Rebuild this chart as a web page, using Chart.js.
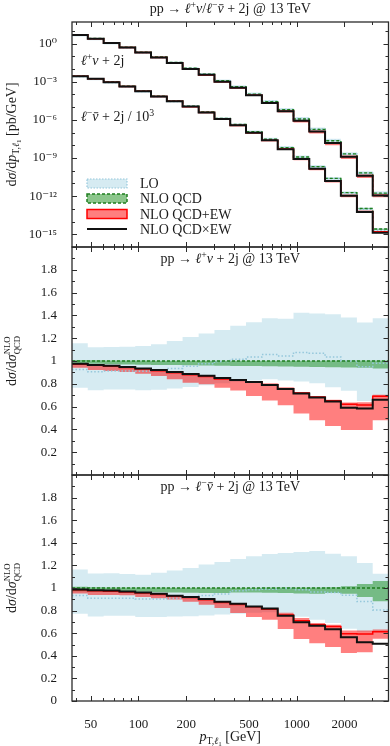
<!DOCTYPE html>
<html>
<head>
<meta charset="utf-8">
<script src="https://cdn.jsdelivr.net/npm/chart.js@4.4.1/dist/chart.umd.min.js"></script>
<style>
  html, body { margin: 0; padding: 0; background: #fff; }
  #wrap { position: relative; width: 390px; height: 746px; overflow: hidden; }
  canvas { position: absolute; left: 0; }
  #err { position: absolute; left: 80px; top: 300px; color: #00f; font: 11px monospace; z-index: 9; }
</style>
</head>
<body>
<div id="wrap">
  <canvas id="topChart" width="390" height="250" style="top:0px"></canvas>
  <canvas id="midChart" width="390" height="234" style="top:244px"></canvas>
  <canvas id="botChart" width="390" height="274" style="top:472px"></canvas>
  <div id="err"></div>
</div>
<script>
/* ----------------------------- */
/* DATA                          */
/* ----------------------------- */
// p_T,l1 bin edges [GeV]
const binEdges = [38, 47.8, 60.2, 75.8, 95.4, 120, 151, 190, 240, 302, 380,
  478, 602, 758, 954, 1200, 1510, 1900, 2400, 3020, 3800];
const xMajorTicks = [50, 100, 200, 500, 1000, 2000];
const xMinorTicks = [40, 60, 70, 80, 90, 300, 400, 600, 700, 800, 900, 3000];
const topDecades = [1e-16, 1e-15, 1e-14, 1e-13, 1e-12, 1e-11, 1e-10, 1e-9, 1e-8,
  1e-7, 1e-6, 1e-5, 1e-4, 1e-3, 1e-2, 1e-1, 1, 10];
const ratioTicks = [0, 0.1, 0.2, 0.3, 0.4, 0.5, 0.6, 0.7, 0.8, 0.9, 1, 1.1, 1.2,
  1.3, 1.4, 1.5, 1.6, 1.7, 1.8, 1.9, 2];

// top panel, NLO QCD central values [pb/GeV]
const wPlusNloQcd = [4.8, 2.5, 1.15, 0.52, 0.21, 0.089, 0.033, 0.0115, 4.0e-3, 1.2e-3,
  4.0e-4, 1.07e-4, 2.7e-5, 6.2e-6, 1.17e-6, 1.78e-7, 2.3e-8, 2.1e-9, 6.8e-11, 1.74e-12];
// l- nubar + 2j, already divided by 10^3
const wMinusNloQcd = [2.75e-3, 1.74e-3, 9.5e-4, 4.4e-4, 1.86e-4, 7.2e-5, 3.1e-5, 1.2e-5, 4.2e-6, 1.32e-6,
  4.3e-7, 1.15e-7, 3.0e-8, 6.6e-9, 1.2e-9, 2.1e-10, 2.5e-11, 1.9e-12, 1.07e-13, 2.6e-15];

// NLO QCD normalised to itself
const nloQcdRatio = [1, 1, 1, 1, 1, 1, 1, 1, 1, 1, 1, 1, 1, 1, 1, 1, 1, 1, 1, 1];

// ratios to NLO QCD, pp -> l+ nu + 2j
const wPlusLo = [0.925, 0.905, 0.912, 0.912, 0.91, 0.923, 0.935, 0.955, 0.975, 0.995,
  1.015, 1.035, 1.057, 1.044, 1.075, 1.068, 1.035, 1.0, 0.95, 0.98];
const wPlusLoUp = [1.155, 1.12, 1.123, 1.125, 1.132, 1.147, 1.176, 1.21, 1.241, 1.271,
  1.309, 1.34, 1.376, 1.37, 1.423, 1.417, 1.41, 1.382, 1.338, 1.376];
const wPlusLoDn = [0.765, 0.744, 0.75, 0.75, 0.744, 0.747, 0.759, 0.771, 0.788, 0.805,
  0.815, 0.83, 0.84, 0.83, 0.82, 0.805, 0.77, 0.74, 0.65, 0.69];
const wPlusNloUp = [1.008, 1.006, 1.005, 1.004, 1.004, 1.003, 1.003, 1.003, 1.003, 1.003,
  1.003, 1.003, 1.003, 1.003, 1.003, 1.003, 1.004, 1.004, 1.005, 1.005];
const wPlusNloDn = [0.975, 0.975, 0.972, 0.97, 0.968, 0.966, 0.964, 0.962, 0.96, 0.958,
  0.957, 0.956, 0.954, 0.952, 0.95, 0.948, 0.946, 0.944, 0.94, 0.935];
const wPlusEw = [0.972, 0.962, 0.955, 0.943, 0.93, 0.915, 0.897, 0.88, 0.864, 0.843,
  0.835, 0.818, 0.793, 0.758, 0.72, 0.684, 0.652, 0.62, 0.615, 0.69];
const wPlusEwUp = [0.975, 0.965, 0.958, 0.945, 0.933, 0.918, 0.9, 0.883, 0.866, 0.845,
  0.84, 0.825, 0.8, 0.765, 0.728, 0.69, 0.66, 0.635, 0.638, 0.705];
const wPlusEwDn = [0.94, 0.92, 0.912, 0.903, 0.888, 0.868, 0.84, 0.81, 0.795, 0.765,
  0.742, 0.692, 0.653, 0.612, 0.54, 0.48, 0.43, 0.395, 0.395, 0.48];
const wPlusQcdXEw = [0.975, 0.966, 0.958, 0.947, 0.935, 0.921, 0.903, 0.885, 0.87, 0.85,
  0.833, 0.816, 0.79, 0.755, 0.715, 0.68, 0.645, 0.59, 0.583, 0.66];

// ratios to NLO QCD, pp -> l- nubar + 2j
const wMinusLo = [0.933, 0.91, 0.91, 0.91, 0.902, 0.902, 0.91, 0.92, 0.933, 0.947,
  0.975, 0.985, 0.99, 0.995, 0.985, 0.965, 0.96, 0.935, 0.88, 0.805];
const wMinusLoUp = [1.163, 1.128, 1.13, 1.125, 1.118, 1.136, 1.154, 1.177, 1.207, 1.23,
  1.257, 1.28, 1.3, 1.309, 1.318, 1.327, 1.303, 1.28, 1.221, 1.127];
const wMinusLoDn = [0.772, 0.748, 0.754, 0.754, 0.743, 0.743, 0.748, 0.75, 0.757, 0.766,
  0.772, 0.78, 0.785, 0.775, 0.745, 0.72, 0.69, 0.64, 0.61, 0.62];
const wMinusNloUp = [1.01, 1.006, 1.005, 1.004, 1.004, 1.004, 1.003, 1.003, 1.003, 1.003,
  1.003, 1.003, 1.004, 1.004, 1.005, 1.005, 1.006, 1.016, 1.036, 1.062];
const wMinusNloDn = [0.972, 0.972, 0.97, 0.968, 0.966, 0.963, 0.961, 0.958, 0.956, 0.955,
  0.96, 0.96, 0.958, 0.956, 0.952, 0.95, 0.955, 0.95, 0.92, 0.883];
const wMinusEw = [0.985, 0.975, 0.972, 0.965, 0.955, 0.943, 0.928, 0.915, 0.895, 0.872,
  0.853, 0.833, 0.812, 0.76, 0.71, 0.675, 0.66, 0.595, 0.592, 0.612];
const wMinusEwUp = [0.99, 0.98, 0.978, 0.97, 0.961, 0.949, 0.932, 0.92, 0.902, 0.879,
  0.861, 0.84, 0.82, 0.78, 0.735, 0.69, 0.675, 0.625, 0.625, 0.632];
const wMinusEwDn = [0.951, 0.937, 0.937, 0.935, 0.92, 0.91, 0.898, 0.879, 0.852, 0.823,
  0.778, 0.743, 0.719, 0.637, 0.548, 0.512, 0.477, 0.424, 0.432, 0.55];
const wMinusQcdXEw = [0.987, 0.98, 0.978, 0.97, 0.961, 0.949, 0.932, 0.92, 0.902, 0.879,
  0.861, 0.837, 0.818, 0.755, 0.696, 0.667, 0.635, 0.564, 0.521, 0.507];

/* ----------------------------- */
/* STYLE                         */
/* ----------------------------- */
const FONT = '"Liberation Serif", "DejaVu Serif", serif';
const TEXT_COLOR = '#1a1a1a';
const LO_FILL = 'rgba(173, 216, 230, 0.5)';
const LO_LINE = 'rgb(150, 200, 220)';
const NLO_FILL = 'rgba(0, 128, 0, 0.45)';
const NLO_LINE = '#1f7f1f';
const EW_FILL = 'rgba(255, 0, 0, 0.5)';
const EW_LINE = '#ff0000';
const MIX_LINE = '#111111';

/* ----------------------------- */
/* HELPERS                       */
/* ----------------------------- */
// histogram as stepped line: one point per bin edge, last bin repeated
const steps = (vals, factor) =>
  binEdges.map((x, i) => {
    const k = Math.min(i, vals.length - 1);
    return { x, y: vals[k] * (factor ? factor[k] : 1) };
  });

const bandPair = (up, dn, fill, order) => [
  { data: up, fill: '+1', backgroundColor: fill, borderColor: 'transparent', borderWidth: 0, order },
  { data: dn, fill: false, borderColor: 'transparent', borderWidth: 0, order },
];
const stepLine = (data, color, width, dash, order) => ({
  data, fill: false, borderColor: color, borderWidth: width, borderDash: dash, order,
});

const curveDatasets = (r, factor) => [
  ...bandPair(steps(r.loUp, factor), steps(r.loDn, factor), LO_FILL, 6),
  ...bandPair(steps(r.nloUp, factor), steps(r.nloDn, factor), NLO_FILL, 5),
  ...bandPair(steps(r.ewUp, factor), steps(r.ewDn, factor), EW_FILL, 4),
  stepLine(steps(r.lo, factor), LO_LINE, 1.5, [1.5, 2], 3),
  stepLine(steps(nloQcdRatio, factor), NLO_LINE, 1.4, [3, 2], 2),
  stepLine(steps(r.ew, factor), EW_LINE, 1.5, [], 1),
  stepLine(steps(r.mix, factor), MIX_LINE, 2, [], 0),
];

const wPlusRatios = {
  lo: wPlusLo, loUp: wPlusLoUp, loDn: wPlusLoDn, nloUp: wPlusNloUp, nloDn: wPlusNloDn,
  ew: wPlusEw, ewUp: wPlusEwUp, ewDn: wPlusEwDn, mix: wPlusQcdXEw,
};
const wMinusRatios = {
  lo: wMinusLo, loUp: wMinusLoUp, loDn: wMinusLoDn, nloUp: wMinusNloUp, nloDn: wMinusNloDn,
  ew: wMinusEw, ewUp: wMinusEwUp, ewDn: wMinusEwDn, mix: wMinusQcdXEw,
};

// text with italics, super- and subscripts; y is the baseline
// style flags: i italic, ^ sup, _ sub, # sub of sub, S stacked sup|sub, b bar over
const drawRich = (ctx, parts, x, y, size, align = 'left') => {
  const items = parts.map(([text, style = '']) => {
    let fs = size, dy = 0;
    if (style.includes('^')) { fs = size * 0.7; dy = -size * 0.36; }
    if (style.includes('_')) { fs = size * 0.7; dy = size * 0.2; }
    if (style.includes('#')) { fs = size * 0.5; dy = size * 0.36; }
    if (style.includes('S')) { fs = size * 0.62; }
    const font = `${style.includes('i') ? 'italic ' : ''}${fs}px ${FONT}`;
    ctx.font = font;
    const lines = text.split('|');
    const w = Math.max(...lines.map((l) => ctx.measureText(l).width));
    return { lines, font, dy, w, fs, stacked: style.includes('S'), bar: style.includes('b') };
  });
  const total = items.reduce((s, it) => s + it.w, 0);
  let cx = align === 'center' ? x - total / 2 : x;
  ctx.textAlign = 'left';
  ctx.textBaseline = 'alphabetic';
  for (const it of items) {
    ctx.font = it.font;
    if (it.stacked) {
      ctx.fillText(it.lines[0], cx, y - size * 0.4);
      ctx.fillText(it.lines[1], cx, y + size * 0.28);
    } else {
      ctx.fillText(it.lines[0], cx, y + it.dy);
    }
    if (it.bar) {
      ctx.fillRect(cx + it.w * 0.25, y + it.dy - it.fs * 0.62, it.w * 0.7, Math.max(0.8, it.fs * 0.06));
    }
    cx += it.w;
  }
};

const SUP = { '-': '⁻', 0: '⁰', 1: '¹', 2: '²', 3: '³', 4: '⁴', 5: '⁵', 6: '⁶', 7: '⁷', 8: '⁸', 9: '⁹' };
const supNum = (n) => String(n).split('').map((c) => SUP[c]).join('');

const showError = (e) => {
  document.getElementById('err').textContent += String(e && e.stack ? e.stack : e) + ' | ';
};

/* ----------------------------- */
/* PLUGIN: frame, ticks, texts   */
/* ----------------------------- */
const drawFrame = (chart) => {
  const { ctx, chartArea: a } = chart;
  const xs = chart.scales.x;
  const ys = chart.scales.y;
  const isLog = ys.type === 'logarithmic';
  ctx.save();
  ctx.setLineDash([]);
  ctx.strokeStyle = '#2b2b2b';
  ctx.lineWidth = 1;
  ctx.beginPath();
  xMajorTicks.concat(xMinorTicks).forEach((v) => {
    const px = Math.round(xs.getPixelForValue(v)) + 0.5;
    const len = xMajorTicks.includes(v) ? 5 : 3;
    ctx.moveTo(px, a.bottom); ctx.lineTo(px, a.bottom - len);
    ctx.moveTo(px, a.top); ctx.lineTo(px, a.top + len);
  });
  (isLog ? topDecades : ratioTicks).forEach((v) => {
    const py = Math.round(ys.getPixelForValue(v)) + 0.5;
    const major = isLog ? Math.round(Math.log10(v)) % 3 === 0 : Math.round(v * 10) % 2 === 0;
    const len = major ? 5 : 3;
    ctx.moveTo(a.left, py); ctx.lineTo(a.left + len, py);
    ctx.moveTo(a.right, py); ctx.lineTo(a.right - len, py);
  });
  ctx.stroke();
  ctx.lineWidth = 1.3;
  ctx.strokeRect(a.left, a.top, a.right - a.left, a.bottom - a.top);
  ctx.restore();
};

const L = ['ℓ', 'i'];
const NU = ['ν', 'i'];
const NUBAR = ['ν', 'ib'];

const drawTexts = (chart) => {
  const { ctx, chartArea: a } = chart;
  const panel = chart.canvas.id;
  const cx = (a.left + a.right) / 2;
  const cy = (a.top + a.bottom) / 2;
  ctx.save();
  ctx.fillStyle = TEXT_COLOR;
  const yTitle = (parts) => {
    ctx.save();
    ctx.translate(16, cy);
    ctx.rotate(-Math.PI / 2);
    drawRich(ctx, parts, 0, 0, 14, 'center');
    ctx.restore();
  };
  if (panel === 'topChart') {
    drawRich(ctx, [['pp → '], L, ['+', '^'], NU, ['/'], L, ['−', '^'], NUBAR, [' + 2j @ 13 TeV']], cx, 13, 14, 'center');
    drawRich(ctx, [L, ['+', '^'], NU, [' + 2j']], 81, 65, 14);
    drawRich(ctx, [L, ['−', '^'], NUBAR, [' + 2j / 10'], ['3', '^']], 81, 121, 14);
    yTitle([['d'], ['σ', 'i'], ['/d'], ['p', 'i'], ['T,', '_'], ['ℓ', '_i'], ['1', '#'], [' [pb/GeV]']]);
    // legend
    const bx = 87, bw = 40, bh = 9;
    const rows = [
      { y: 183.5, text: 'LO', fill: LO_FILL, line: LO_LINE, dash: [1.5, 1.5], lw: 1.2 },
      { y: 198.5, text: 'NLO QCD', fill: NLO_FILL, line: NLO_LINE, dash: [3, 2], lw: 1.5 },
      { y: 214, text: 'NLO QCD+EW', fill: EW_FILL, line: EW_LINE, dash: [], lw: 1.5 },
      { y: 229, text: 'NLO QCD×EW' },
    ];
    rows.forEach((r) => {
      if (r.fill) {
        ctx.fillStyle = r.fill;
        ctx.fillRect(bx, r.y - bh / 2, bw, bh);
        ctx.strokeStyle = r.line;
        ctx.lineWidth = r.lw;
        ctx.setLineDash(r.dash);
        ctx.strokeRect(bx, r.y - bh / 2, bw, bh);
        ctx.setLineDash([]);
      } else {
        ctx.strokeStyle = MIX_LINE;
        ctx.lineWidth = 2;
        ctx.beginPath();
        ctx.moveTo(bx, r.y); ctx.lineTo(bx + bw, r.y);
        ctx.stroke();
      }
      ctx.fillStyle = TEXT_COLOR;
      drawRich(ctx, [[r.text]], 140, r.y + 4.5, 14);
    });
  } else {
    const proc = panel === 'midChart' ? [L, ['+', '^'], NU] : [L, ['−', '^'], NUBAR];
    drawRich(ctx, [['pp → '], ...proc, [' + 2j @ 13 TeV']], cx, a.top + 16, 14, 'center');
    yTitle([['d'], ['σ', 'i'], ['/d'], ['σ', 'i'], ['NLO|QCD', 'S']]);
    if (panel === 'botChart') {
      drawRich(ctx, [['p', 'i'], ['T,', '_'], ['ℓ', '_i'], ['1', '#'], [' [GeV]']], cx, a.bottom + 40, 14, 'center');
    }
  }
  ctx.restore();
};

const decorPlugin = {
  id: 'decor',
  afterDraw(chart) {
    try { drawFrame(chart); } catch (e) { showError(e); }
    try { drawTexts(chart); } catch (e) { showError(e); }
  },
};

/* ----------------------------- */
/* CHARTS                        */
/* ----------------------------- */
Chart.defaults.font.family = FONT;
Chart.defaults.color = TEXT_COLOR;

const noPadding = (scale) => {
  scale.paddingTop = 0;
  scale.paddingBottom = 0;
  scale.paddingLeft = 0;
  scale.paddingRight = 0;
};

const xScale = (show) => ({
  type: 'logarithmic',
  min: binEdges[0],
  max: binEdges[binEdges.length - 1],
  display: show,
  grid: { display: false },
  border: { display: false },
  afterBuildTicks: (scale) => {
    scale.ticks = xMajorTicks.concat(xMinorTicks).sort((p, q) => p - q).map((value) => ({ value }));
  },
  afterFit: (scale) => { scale.height = show ? 45 : 0; noPadding(scale); },
  ticks: {
    autoSkip: false,
    maxRotation: 0,
    padding: 8,
    font: { size: 13 },
    callback: (value) => (xMajorTicks.includes(value) ? String(value) : ''),
  },
});

const baseOptions = (yScale, showX, padding) => ({
  responsive: false,
  animation: false,
  devicePixelRatio: 1,
  layout: { padding },
  elements: {
    point: { radius: 0, hoverRadius: 0 },
    line: { stepped: true, tension: 0, borderCapStyle: 'butt' },
  },
  plugins: {
    legend: { display: false },
    tooltip: { enabled: false },
  },
  events: [],
  scales: { x: xScale(showX), y: yScale },
});

const ratioScale = (showZero) => ({
  type: 'linear',
  min: 0,
  max: 2,
  grid: { display: false },
  border: { display: false },
  afterBuildTicks: (scale) => { scale.ticks = ratioTicks.map((value) => ({ value })); },
  afterFit: (scale) => { scale.width = 72; noPadding(scale); },
  ticks: {
    autoSkip: false,
    padding: 7,
    font: { size: 13 },
    callback: (value) => {
      const k = Math.round(value * 10);
      if (k % 2 !== 0 || k >= 20 || (k === 0 && !showZero)) return '';
      if (k === 0) return '0';
      return k === 10 ? '1' : value.toFixed(1);
    },
  },
});

const topScale = {
  type: 'logarithmic',
  min: 1e-16,
  max: 50,
  grid: { display: false },
  border: { display: false },
  afterBuildTicks: (scale) => { scale.ticks = topDecades.map((value) => ({ value })); },
  afterFit: (scale) => { scale.width = 72; noPadding(scale); },
  ticks: {
    autoSkip: false,
    padding: 7,
    font: { size: 13 },
    callback: (value) => {
      const e = Math.round(Math.log10(value));
      return e % 3 === 0 ? '10' + supNum(e) : '';
    },
  },
};

try {
  new Chart(document.getElementById('topChart'), {
    type: 'line',
    data: {
      datasets: [
        ...curveDatasets(wPlusRatios, wPlusNloQcd),
        ...curveDatasets(wMinusRatios, wMinusNloQcd),
      ],
    },
    options: baseOptions(topScale, false, { top: 22, bottom: 3, left: 0, right: 1.5 }),
    plugins: [decorPlugin],
  });

  new Chart(document.getElementById('midChart'), {
    type: 'line',
    data: { datasets: curveDatasets(wPlusRatios) },
    options: baseOptions(ratioScale(false), false, { top: 3, bottom: 3, left: 0, right: 1.5 }),
    plugins: [decorPlugin],
  });

  new Chart(document.getElementById('botChart'), {
    type: 'line',
    data: { datasets: curveDatasets(wMinusRatios) },
    options: baseOptions(ratioScale(true), true, { top: 3, bottom: 0, left: 0, right: 1.5 }),
    plugins: [decorPlugin],
  });
} catch (e) { showError(e); }
</script>
</body>
</html>
